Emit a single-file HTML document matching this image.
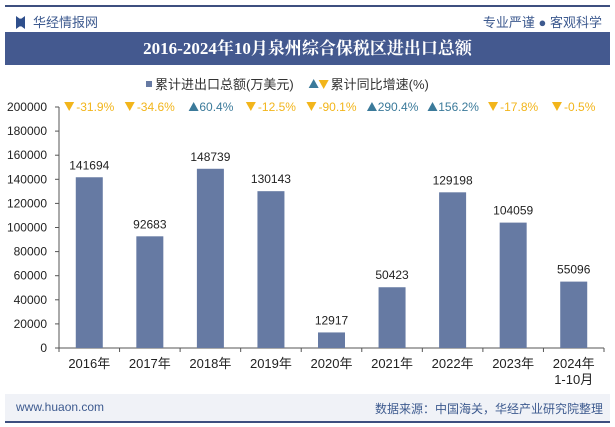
<!DOCTYPE html>
<html><head><meta charset="utf-8"><style>
body{margin:0;width:615px;height:427px;background:#fff;overflow:hidden;font-family:"Liberation Sans","Noto Sans CJK SC",sans-serif;position:relative}
.abs{position:absolute}
</style></head><body>
<div class="abs" style="left:5px;top:5px;width:605px;height:2px;background:#3d4f7f"></div>
<div class="abs" style="left:16px;top:12px;font-size:13px;color:#3d5a8f"><span style="display:inline-block;width:9px;height:13px;background:#2f4f8c;vertical-align:-2px;margin-right:8px;clip-path:polygon(0 0,40% 20%,60% 20%,100% 0,100% 100%,60% 80%,40% 80%,0 100%)"></span>华经情报网</div>
<div class="abs" style="right:13px;top:12px;font-size:13px;color:#3d5a8f">专业严谨 ● 客观科学</div>
<div class="abs" style="left:5px;top:32px;width:605px;height:33px;background:#44598f;color:#fff;font-family:'Liberation Serif','Noto Serif CJK SC',serif;font-weight:bold;font-size:17px;line-height:33px;text-align:center">2016-2024年10月泉州综合保税区进出口总额</div>
<svg class="abs" style="left:0;top:0" width="615" height="427" id="chart"></svg>
<div class="abs" style="left:5px;top:394px;width:605px;height:27px;background:#f0f2f7"></div>
<div class="abs" style="left:16px;top:400px;font-size:12px;color:#3d5a8f">www.huaon.com</div>
<div class="abs" style="right:12px;top:400px;font-size:12px;color:#3d5a8f">数据来源：中国海关，华经产业研究院整理</div>
<div class="abs" style="left:5px;top:421px;width:605px;height:2px;background:#3d4f7f"></div>
<script>
const categories=["2016年","2017年","2018年","2019年","2020年","2021年","2022年","2023年","2024年\n1-10月"];
const values=[141694,92683,148739,130143,12917,50423,129198,104059,55096];
const growth=[-31.9,-34.6,60.4,-12.5,-90.1,290.4,156.2,-17.8,-0.5];
const yTicks=[0,20000,40000,60000,80000,100000,120000,140000,160000,180000,200000];
const NS="http://www.w3.org/2000/svg";
const svg=document.getElementById('chart');
const x0=59,x1=604,yb=348,yt=107,ymax=200000;
const cw=(x1-x0)/categories.length;
const Y=v=>yb-(v/ymax)*(yb-yt);
const X=i=>x0+cw*(i+0.5);
function mk(t,a,txt,p){const e=document.createElementNS(NS,t);for(const k in a)e.setAttribute(k,a[k]);if(txt!=null)e.textContent=txt;(p||svg).appendChild(e);return e;}
function tri(x,y,up,name){const s=5;const pts=up?`${x-s},${y+4} ${x+s},${y+4} ${x},${y-5}`:`${x-s},${y-5} ${x+s},${y-5} ${x},${y+4}`;
 const p=mk('polygon',{points:pts,fill:up?'#3b7a9a':'#f2b51b'});}
// legend
let e=mk('rect',{x:146,y:81,width:6,height:6,fill:'#667aa3'});

e=mk('text',{x:155,y:89,'font-size':13,fill:'#333'},'累计进出口总额(万美元)');

const lx=155+e.getComputedTextLength()+20;
tri(lx,84,true,'legend-up-icon');
tri(lx+10,85,false,'legend-down-icon');
e=mk('text',{x:lx+17,y:89,'font-size':13,fill:'#333'},'累计同比增速(%)');

// y axis
e=mk('line',{x1:x0,y1:yt,x2:x0,y2:yb,stroke:'#555'});

yTicks.forEach(t=>{
 const l=mk('line',{x1:x0-4,y1:Y(t),x2:x0,y2:Y(t),stroke:'#555'});
 
 const tx=mk('text',{x:x0-12,y:Y(t)+4,'font-size':12,fill:'#222','text-anchor':'end'},t);
 
});
e=mk('line',{x1:x0,y1:yb,x2:x1,y2:yb,stroke:'#555'});

for(let i=0;i<=categories.length;i++){
 const l=mk('line',{x1:x0+cw*i,y1:yb,x2:x0+cw*i,y2:yb+4,stroke:'#555'});
 
}
categories.forEach((c,i)=>{
 const b=mk('rect',{x:X(i)-13.5,y:Y(values[i]),width:27,height:yb-Y(values[i]),fill:'#667aa3'});
 
 const v=mk('text',{x:X(i),y:Y(values[i])-8,'font-size':12,fill:'#222','text-anchor':'middle'},values[i]);
 
 c.split('\n').forEach((p,j)=>{
  const t=mk('text',{x:X(i),y:368+j*16,'font-size':13,fill:'#222','text-anchor':'middle'},p);
  
 });
 const up=growth[i]>=0;
 const txt=growth[i].toFixed(1)+'%';
 const g=mk('text',{x:X(i)+6,y:111,'font-size':12,'text-anchor':'middle',fill:up?'#3b7a9a':'#f2b51b'},txt);
 
 const w=txt.length*6.7;
 tri(X(i)+6-w/2-6,107,up,'growth-icon');
});
</script>
</body></html>
